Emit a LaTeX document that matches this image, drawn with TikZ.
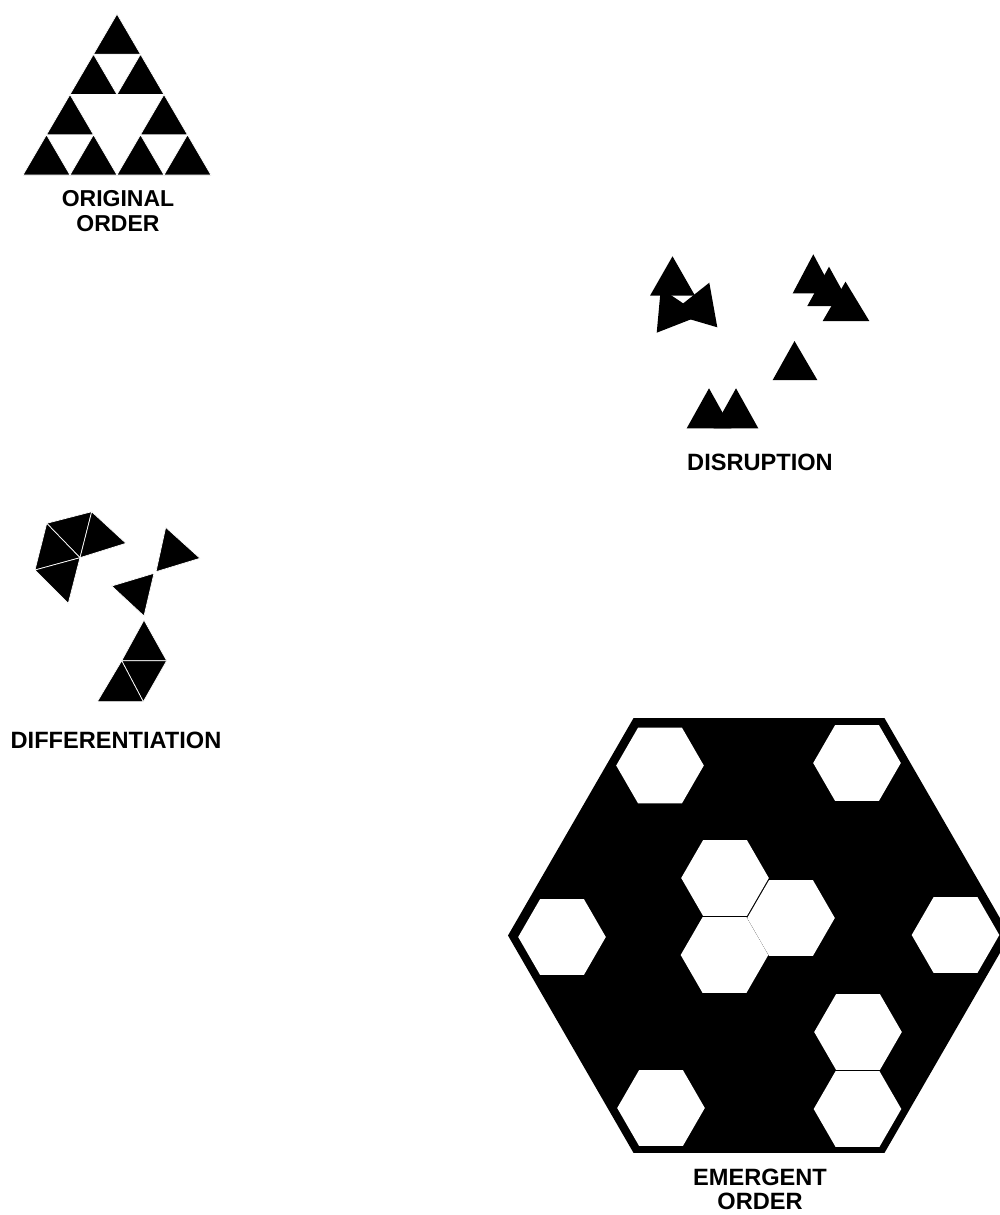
\documentclass[tikz,border=0pt]{standalone}
\usepackage{fontspec}
\setmainfont{Liberation Sans}
\begin{document}
\begin{tikzpicture}[x=1pt,y=-1pt,
  blk/.style={fill=black},
  seg/.style={fill=black, draw=white, line width=0.7pt, line join=miter},
  hexw/.style={fill=white},
  lbl/.style={font=\fontsize{23.6}{25}\selectfont\bfseries, align=center, inner sep=0pt, text=black}]
\useasboundingbox (0,0) rectangle (1000,1215);
\clip (0,0) rectangle (1000,1215);

% ---------- ORIGINAL ORDER ----------
\foreach \ax/\ty in {117/14, 93.5/54.25, 140.5/54.25, 70/94.5, 164/94.5,
                      46.5/134.75, 93.5/134.75, 140.5/134.75, 187.5/134.75}
  \path[seg] (\ax,\ty) -- ++(-23.5,40.25) -- ++(47,0) -- cycle;
\node[lbl, font=\fontsize{23}{25}\selectfont\bfseries] (oo) at (118,211) {ORIGINAL\\ORDER};

% ---------- DISRUPTION ----------
\path[blk] (660.8,288.3) -- (656.7,332.7) -- (701,315.4) -- cycle;
\path[blk] (709.3,282.7) -- (717.3,327.3) -- (670.4,313.5) -- cycle;
\path[blk] (672.5,256.3) -- (650,295.7) -- (695,295.7) -- cycle;
\path[blk] (813.3,254.3) -- (792.7,293.3) -- (834,293.3) -- cycle;
\path[blk] (829,266.7) -- (807.3,306) -- (850.7,306) -- cycle;
\path[blk] (845.5,281.7) -- (822.7,321) -- (869.3,321) -- cycle;
\path[blk] (794.5,341) -- (772.7,380) -- (817.3,380) -- cycle;
\path[blk] (709,388.3) -- (686.7,428.3) -- (731.3,428.3) -- cycle;
\path[blk] (736,388.3) -- (713.7,428.3) -- (758.3,428.3) -- cycle;
\node[lbl] (dis) at (760,462) {DISRUPTION};

% ---------- DIFFERENTIATION ----------
\coordinate (p1) at (46.7,523.3);
\coordinate (p2) at (91.7,511.7);
\coordinate (p3) at (126,543.3);
\coordinate (pc) at (80,557.7);
\coordinate (p4) at (35,570);
\coordinate (p5) at (68.3,603.3);
\path[seg] (p1) -- (p2) -- (pc) -- cycle;
\path[seg] (p2) -- (p3) -- (pc) -- cycle;
\path[seg] (p1) -- (pc) -- (p4) -- cycle;
\path[seg] (p4) -- (pc) -- (p5) -- cycle;
\path[seg] (165.7,527.3) -- (200,558.3) -- (156,571.7) -- cycle;
\path[seg] (111.7,586) -- (154,573.3) -- (144,616) -- cycle;
\coordinate (q1) at (144,620);
\coordinate (q2) at (121.7,660.7);
\coordinate (q3) at (166.7,660.7);
\coordinate (q4) at (143.3,701.7);
\coordinate (q5) at (97.3,701.7);
\path[seg] (q1) -- (q2) -- (q3) -- cycle;
\path[seg] (q2) -- (q3) -- (q4) -- cycle;
\path[seg] (q2) -- (q4) -- (q5) -- cycle;
\node[lbl] (dif) at (116,740) {DIFFERENTIATION};

% ---------- EMERGENT ORDER ----------
\path[blk] (759,935.5) +(0:251) -- +(60:251) -- +(120:251) -- +(180:251)
  -- +(240:251) -- +(300:251) -- cycle;
\foreach \cx/\cy in {660/765.5, 857/763, 562/937, 955.5/935, 725/878, 791/918,
                      724.5/955, 858/1032, 857.5/1109, 661/1108}
  \path[hexw] (\cx,\cy) +(0:43.8) -- +(60:43.8) -- +(120:43.8) -- +(180:43.8)
    -- +(240:43.8) -- +(300:43.8) -- cycle;
\node[lbl, font=\fontsize{23.6}{24.5}\selectfont\bfseries] (eo) at (760,1189.5) {EMERGENT\\ORDER};
\end{tikzpicture}
\end{document}
